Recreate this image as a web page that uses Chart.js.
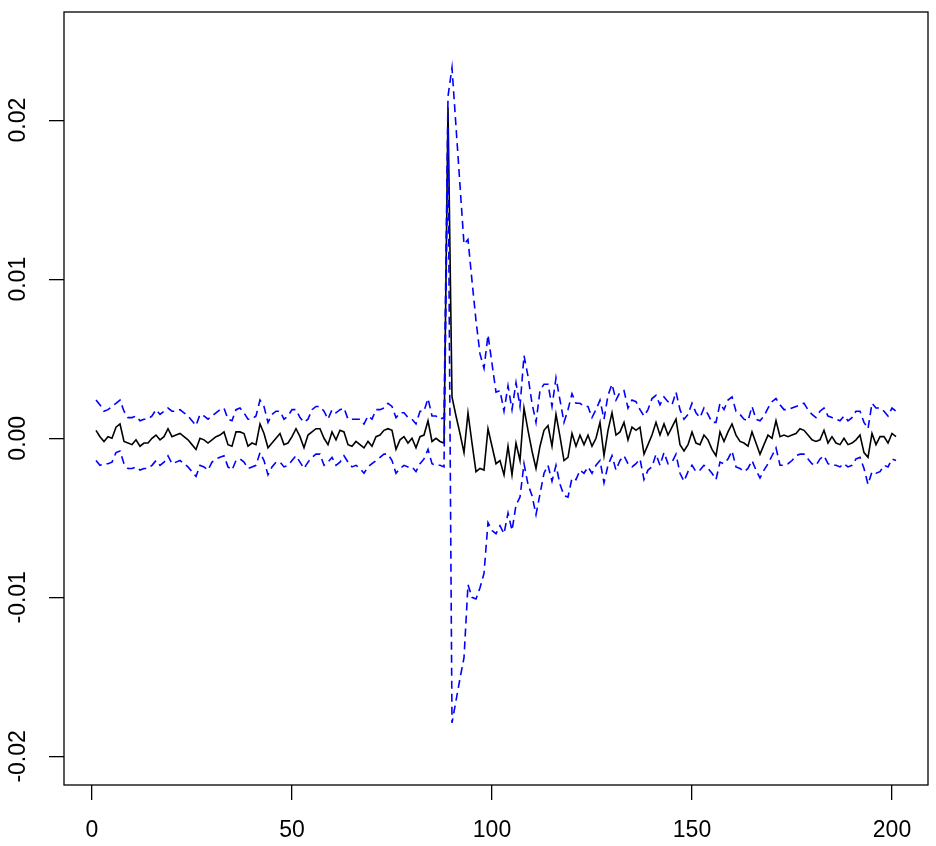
<!DOCTYPE html>
<html>
<head>
<meta charset="utf-8">
<title>Estimate with band</title>
<script src="https://cdn.jsdelivr.net/npm/chart.js@4/dist/chart.umd.min.js"></script>
<style>
  html, body { margin: 0; padding: 0; background: #fff; }
  #wrap { width: 936px; height: 846px; }
</style>
</head>
<body>
<div id="wrap"><canvas id="chart" width="936" height="846"></canvas></div>
<script>
/* ── Data ──────────────────────────────────────────────────────────── */
const xTicks  = [0, 50, 100, 150, 200];
const yTicks  = [-0.02, -0.01, 0, 0.01, 0.02];
const yLabels = ['-0.02', '-0.01', '0.00', '0.01', '0.02'];

// estimate, x = 1..201
const center = [
  0.0005, 0.0001, -0.0002, 0.0001, 0.0000, 0.0007, 0.0009, -0.0002, -0.0003, -0.0004,
  -0.0001, -0.0005, -0.0003, -0.0003, 0.0000, 0.0002, -0.0001, 0.0001, 0.0006, 0.0001,
  0.0002, 0.0003, 0.0001, -0.0001, -0.0004, -0.0007, 0.0000, -0.0001, -0.0003, -0.0001,
  0.0001, 0.0002, 0.0004, -0.0004, -0.0005, 0.0004, 0.0004, 0.0003, -0.0005, -0.0003,
  -0.0004, 0.0009, 0.0003, -0.0006, -0.0003, 0.0000, 0.0003, -0.0004, -0.0003, 0.0001,
  0.0006, 0.0001, -0.0006, 0.0002, 0.0004, 0.0006, 0.0006, 0.0000, -0.0004, 0.0004,
  -0.0001, 0.0005, 0.0004, -0.0004, -0.0005, -0.0002, -0.0004, -0.0006, -0.0002, -0.0005,
  0.0001, 0.0002, 0.0005, 0.0006, 0.0005, -0.0007, -0.0001, 0.0001, -0.0003, 0.0000,
  -0.0006, 0.0001, 0.0002, 0.0011, -0.0002, 0.0000, -0.0002, -0.0003, 0.0208, 0.0026,
  0.0014, 0.0003, -0.0009, 0.0016, -0.0003, -0.0021, -0.0019, -0.0020, 0.0006, -0.0005,
  -0.0016, -0.0014, -0.0023, -0.0005, -0.0023, -0.0003, -0.0014, 0.0019, 0.0005, -0.0008,
  -0.0019, -0.0005, 0.0005, 0.0008, -0.0005, 0.0015, 0.0001, -0.0014, -0.0012, 0.0003,
  -0.0005, 0.0002, -0.0004, 0.0002, -0.0005, 0.0000, 0.0010, -0.0011, 0.0005, 0.0016,
  0.0002, 0.0004, 0.0010, -0.0001, 0.0007, 0.0005, 0.0007, -0.0010, -0.0004, 0.0002,
  0.0010, 0.0002, 0.0009, 0.0002, 0.0007, 0.0012, -0.0004, -0.0008, -0.0004, 0.0004,
  -0.0003, -0.0004, 0.0002, -0.0001, -0.0007, -0.0011, 0.0004, -0.0002, 0.0004, 0.0009,
  0.0002, -0.0002, -0.0003, -0.0005, 0.0004, -0.0003, -0.0010, -0.0004, 0.0002, 0.0000,
  0.0011, 0.0001, 0.0002, 0.0001, 0.0002, 0.0003, 0.0006, 0.0005, 0.0002, -0.0001,
  -0.0002, -0.0001, 0.0005, -0.0003, 0.0001, -0.0003, -0.0004, 0.0000, -0.0004, -0.0003,
  -0.0001, 0.0002, -0.0009, -0.0012, 0.0003, -0.0004, 0.0001, 0.0001, -0.0003, 0.0003,
  0.0001
];

// upper band
const upper = [
  0.0024, 0.0021, 0.0017, 0.0018, 0.0020, 0.0022, 0.0024, 0.0017, 0.0013, 0.0013,
  0.0014, 0.0011, 0.0012, 0.0012, 0.0014, 0.0018, 0.0015, 0.0017, 0.0019, 0.0017,
  0.0017, 0.0018, 0.0016, 0.0014, 0.0011, 0.0008, 0.0015, 0.0014, 0.0012, 0.0014,
  0.0016, 0.0018, 0.0019, 0.0012, 0.0011, 0.0018, 0.0019, 0.0016, 0.0012, 0.0012,
  0.0014, 0.0024, 0.0020, 0.0010, 0.0015, 0.0017, 0.0017, 0.0012, 0.0014, 0.0018,
  0.0018, 0.0013, 0.0010, 0.0012, 0.0018, 0.0020, 0.0020, 0.0017, 0.0012, 0.0018,
  0.0016, 0.0018, 0.0019, 0.0012, 0.0012, 0.0012, 0.0012, 0.0009, 0.0014, 0.0012,
  0.0018, 0.0018, 0.0019, 0.0022, 0.0020, 0.0013, 0.0016, 0.0016, 0.0013, 0.0012,
  0.0009, 0.0017, 0.0017, 0.0025, 0.0014, 0.0014, 0.0012, 0.0013, 0.0215, 0.0233,
  0.0196, 0.0159, 0.0122, 0.0125, 0.0099, 0.0074, 0.0053, 0.0044, 0.0065, 0.0047,
  0.0029, 0.0030, 0.0017, 0.0033, 0.0018, 0.0035, 0.0020, 0.0052, 0.0039, 0.0022,
  0.0010, 0.0030, 0.0034, 0.0034, 0.0020, 0.0038, 0.0024, 0.0010, 0.0018, 0.0028,
  0.0022, 0.0022, 0.0020, 0.0020, 0.0013, 0.0018, 0.0024, 0.0012, 0.0027, 0.0034,
  0.0024, 0.0029, 0.0030, 0.0019, 0.0024, 0.0023, 0.0018, 0.0014, 0.0018, 0.0025,
  0.0027, 0.0021, 0.0026, 0.0023, 0.0021, 0.0029, 0.0018, 0.0012, 0.0015, 0.0022,
  0.0016, 0.0013, 0.0019, 0.0015, 0.0010, 0.0010, 0.0022, 0.0018, 0.0024, 0.0026,
  0.0017, 0.0015, 0.0012, 0.0011, 0.0020, 0.0012, 0.0011, 0.0014, 0.0019, 0.0023,
  0.0025, 0.0021, 0.0018, 0.0018, 0.0019, 0.0020, 0.0021, 0.0022, 0.0018, 0.0015,
  0.0013, 0.0017, 0.0019, 0.0014, 0.0013, 0.0012, 0.0011, 0.0014, 0.0011, 0.0013,
  0.0017, 0.0017, 0.0010, 0.0006, 0.0022, 0.0019, 0.0019, 0.0017, 0.0014, 0.0019,
  0.0017
];

// lower band
const lower = [
  -0.0014, -0.0017, -0.0016, -0.0016, -0.0015, -0.0009, -0.0008, -0.0016, -0.0019, -0.0019,
  -0.0018, -0.0020, -0.0019, -0.0019, -0.0017, -0.0014, -0.0017, -0.0015, -0.0011, -0.0016,
  -0.0015, -0.0014, -0.0016, -0.0018, -0.0021, -0.0024, -0.0017, -0.0018, -0.0020, -0.0015,
  -0.0013, -0.0012, -0.0011, -0.0018, -0.0020, -0.0014, -0.0013, -0.0015, -0.0019, -0.0018,
  -0.0017, -0.0009, -0.0014, -0.0023, -0.0018, -0.0015, -0.0015, -0.0018, -0.0017, -0.0014,
  -0.0011, -0.0015, -0.0019, -0.0015, -0.0012, -0.0010, -0.0010, -0.0017, -0.0015, -0.0012,
  -0.0017, -0.0015, -0.0011, -0.0015, -0.0018, -0.0017, -0.0019, -0.0022, -0.0018, -0.0016,
  -0.0014, -0.0012, -0.0010, -0.0010, -0.0014, -0.0022, -0.0019, -0.0017, -0.0018, -0.0018,
  -0.0021, -0.0016, -0.0013, -0.0007, -0.0016, -0.0017, -0.0017, -0.0018, 0.0195, -0.0179,
  -0.0165, -0.0151, -0.0138, -0.0092, -0.0100, -0.0101, -0.0094, -0.0085, -0.0053, -0.0058,
  -0.0060, -0.0055, -0.0060, -0.0047, -0.0058, -0.0042, -0.0037, -0.0016, -0.0029, -0.0036,
  -0.0048, -0.0035, -0.0022, -0.0017, -0.0027, -0.0017, -0.0029, -0.0036, -0.0037, -0.0025,
  -0.0026, -0.0020, -0.0022, -0.0018, -0.0022, -0.0017, -0.0014, -0.0028, -0.0017, -0.0011,
  -0.0020, -0.0014, -0.0011, -0.0016, -0.0018, -0.0016, -0.0013, -0.0026, -0.0020, -0.0018,
  -0.0010, -0.0017, -0.0009, -0.0016, -0.0015, -0.0010, -0.0022, -0.0027, -0.0021, -0.0017,
  -0.0021, -0.0020, -0.0017, -0.0019, -0.0022, -0.0026, -0.0015, -0.0016, -0.0013, -0.0008,
  -0.0018, -0.0019, -0.0021, -0.0019, -0.0014, -0.0020, -0.0025, -0.0020, -0.0016, -0.0011,
  -0.0006, -0.0017, -0.0017, -0.0016, -0.0014, -0.0011, -0.0010, -0.0010, -0.0013, -0.0016,
  -0.0017, -0.0013, -0.0011, -0.0016, -0.0017, -0.0017, -0.0018, -0.0016, -0.0018, -0.0017,
  -0.0013, -0.0012, -0.0019, -0.0029, -0.0021, -0.0022, -0.0021, -0.0017, -0.0018, -0.0013,
  -0.0014
];

// ── helpers ──────────────────────────────────────────────────────────
function toPoints(arr) {
  return arr.map(function(v, i) { return { x: i + 1, y: v }; });
}

const FONT = '"Liberation Sans", Arial, Helvetica, sans-serif';

// box + R-style tick labels (y labels rotated)
const rFrame = {
  id: 'rFrame',
  afterDraw: function(chart) {
    var ctx = chart.ctx, a = chart.chartArea;
    var sx = chart.scales.x, sy = chart.scales.y;
    ctx.save();
    ctx.strokeStyle = '#000';
    ctx.lineWidth = 1.3;
    ctx.strokeRect(a.left, a.top, a.right - a.left, a.bottom - a.top);

    ctx.fillStyle = '#000';
    ctx.font = '23px ' + FONT;
    ctx.textAlign = 'center';
    ctx.textBaseline = 'middle';
    xTicks.forEach(function(v) {
      ctx.fillText(String(v), sx.getPixelForValue(v), a.bottom + 46);
    });
    yTicks.forEach(function(v, i) {
      ctx.save();
      ctx.translate(a.left - 45, sy.getPixelForValue(v));
      ctx.rotate(-Math.PI / 2);
      ctx.fillText(yLabels[i], 0, 0);
      ctx.restore();
    });
    ctx.restore();
  }
};

const tickGrid = {
  drawOnChartArea: false,
  drawTicks: true,
  tickLength: 15,
  color: '#000',
  lineWidth: 1.3
};

// real labels are painted by rFrame; keep the library's own ones tiny so they add no padding
const hiddenTicks = { color: 'rgba(0,0,0,0)', font: { size: 1 }, padding: 0 };

new Chart(document.getElementById('chart').getContext('2d'), {
  type: 'line',
  data: {
    datasets: [
      {
        label: 'upper',
        data: toPoints(upper),
        borderColor: '#0000ff',
        borderWidth: 1.6,
        borderDash: [8, 5],
        pointRadius: 0,
        tension: 0,
        fill: false
      },
      {
        label: 'lower',
        data: toPoints(lower),
        borderColor: '#0000ff',
        borderWidth: 1.6,
        borderDash: [8, 5],
        pointRadius: 0,
        tension: 0,
        fill: false
      },
      {
        label: 'estimate',
        data: toPoints(center),
        borderColor: '#000',
        borderWidth: 1.6,
        pointRadius: 0,
        tension: 0,
        fill: false
      }
    ]
  },
  options: {
    responsive: false,
    animation: false,
    devicePixelRatio: 1,
    layout: { padding: { top: 12, right: 8, left: 0, bottom: 0 } },
    plugins: {
      legend: { display: false },
      tooltip: { enabled: false }
    },
    scales: {
      x: {
        type: 'linear',
        min: -7,
        max: 209,
        grid: tickGrid,
        border: { display: false },
        ticks: hiddenTicks,
        afterBuildTicks: function(s) { s.ticks = xTicks.map(function(v) { return { value: v }; }); },
        afterFit: function(s) { s.height = 61; }
      },
      y: {
        type: 'linear',
        min: -0.0218,
        max: 0.0268,
        grid: tickGrid,
        border: { display: false },
        ticks: hiddenTicks,
        afterBuildTicks: function(s) { s.ticks = yTicks.map(function(v) { return { value: v }; }); },
        afterFit: function(s) { s.width = 64; }
      }
    }
  },
  plugins: [rFrame]
});
</script>
</body>
</html>
